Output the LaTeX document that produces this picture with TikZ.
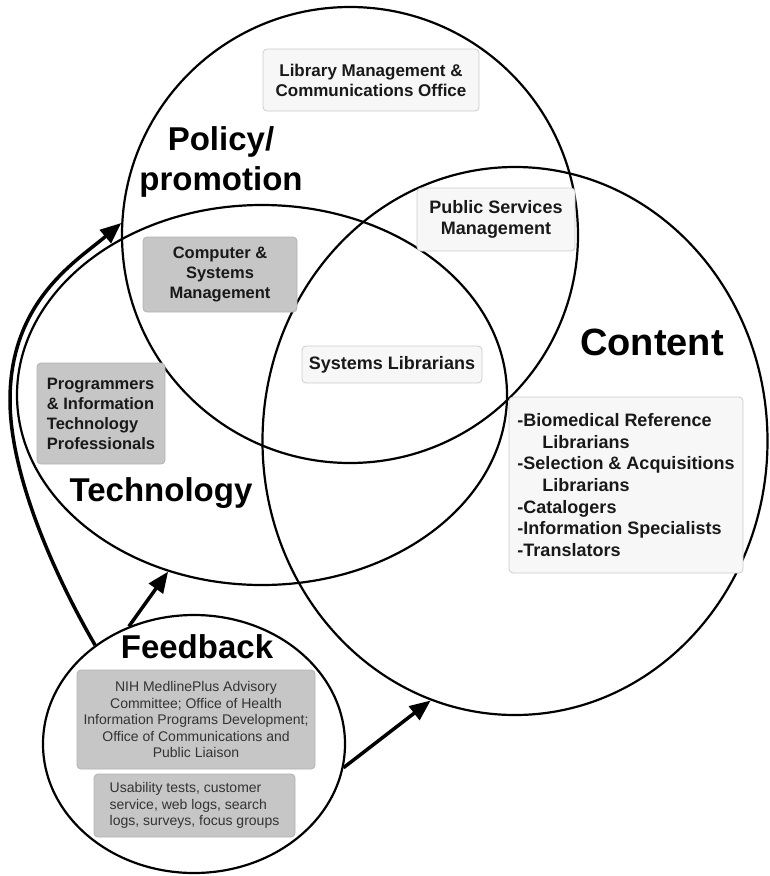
\documentclass[tikz,border=0pt]{standalone}
\usepackage{fontspec}
\setmainfont{Liberation Sans}
\usetikzlibrary{shapes.geometric,arrows.meta}
\begin{document}
\begin{tikzpicture}[
x=1pt,y=-1pt,
area/.style={ellipse,draw,line width=2.2pt,inner sep=0pt},
title/.style={font=\bfseries\fontsize{33}{40}\selectfont,align=center},
lightbox/.style={draw=gray!40,fill=gray!6,rounded corners=4pt,line width=0.8pt,inner sep=0pt,
  font=\bfseries\fontsize{18}{21}\selectfont,align=center,text=black!90},
darkbox/.style={draw=gray!60,fill=gray!45,rounded corners=4pt,line width=0.8pt,inner sep=0pt,
  font=\bfseries\fontsize{16.5}{20}\selectfont,align=center,text=black!90},
feedbox/.style={darkbox,font=\fontsize{14}{16.5}\selectfont,text=black!80},
flow/.style={line width=3.5pt,-{Triangle[length=21pt,width=17pt]}}
]
\useasboundingbox (0,0) rectangle (769,876);
% the four areas
\node[area,minimum size=456pt] (policy) at (350,235) {};
\node[area,minimum width=490pt,minimum height=380pt] (tech) at (262,395) {};
\node[area,minimum width=505pt,minimum height=548pt] (content) at (515,441) {};
\node[area,minimum width=302pt,minimum height=258pt] (feedback) at (194,744) {};
% titles
\node[title] (policytitle) at (221,162) {Policy/\\promotion};
\node[title] (techtitle) at (161,493) {Technology};
\node[title,font=\bfseries\fontsize{38}{44}\selectfont] (contenttitle) at (652,342) {Content};
\node[title] (feedtitle) at (197,647) {Feedback};
% groups
\node[lightbox,font=\bfseries\fontsize{17}{20}\selectfont,minimum width=216pt,minimum height=62pt]
  (libmgmt) at (371,80) {Library Management \&\\Communications Office};
\node[lightbox,minimum width=158pt,minimum height=63pt] (pubserv) at (496,219.5) {Public Services\\Management};
\node[darkbox,minimum width=154pt,minimum height=75pt] (compsys) at (220,274.5) {Computer \&\\Systems\\Management};
\node[lightbox,minimum width=180pt,minimum height=37pt] (syslib) at (392,364.5) {Systems Librarians};
\node[darkbox,align=left,minimum width=128pt,minimum height=101pt]
  (progit) at (101,413.5) {Programmers\\\& Information\\Technology\\Professionals};
\node[lightbox,align=left,font=\bfseries\fontsize{18}{21.7}\selectfont,minimum width=234pt,minimum height=176pt]
  (staff) at (626,485) {-Biomedical Reference\\\hspace*{25pt}Librarians\\-Selection \& Acquisitions\\
  \hspace*{25pt}Librarians\\-Catalogers\\-Information Specialists\\-Translators};
\node[feedbox,minimum width=238pt,minimum height=99pt] (advisory) at (196,719.5)
  {NIH MedlinePlus Advisory\\Committee; Office of Health\\Information Programs Development;\\
  Office of Communications and\\Public Liaison};
\node[feedbox,align=left,minimum width=201pt,minimum height=63pt] (usability) at (194.5,805.5)
  {Usability tests, customer\\service, web logs, search\\logs, surveys, focus groups};
% feedback arrows
\draw[flow] (feedback.135) .. controls (60,585) and (10,480) .. (10,400)
  .. controls (10,300) and (78,260) .. (policy.177);
\draw[flow] (feedback.119.6) -- (tech.242.4);
\draw[flow] (feedback.351) -- (content.252);
\end{tikzpicture}
\end{document}
